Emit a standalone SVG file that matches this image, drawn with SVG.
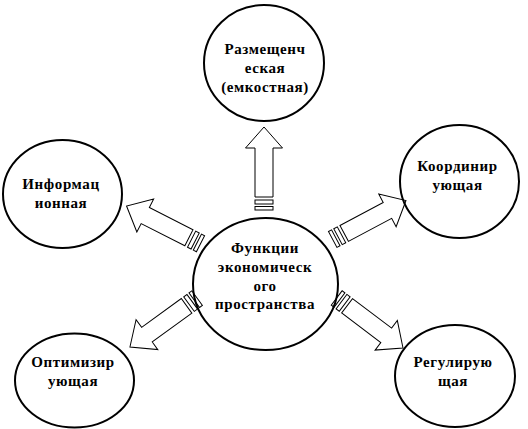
<svg xmlns="http://www.w3.org/2000/svg" width="528" height="429" viewBox="0 0 528 429">
<defs>
<style>
.c{fill:none;stroke:#000;stroke-width:2}
.a{fill:none;stroke:#000;stroke-width:1}
.t{font-family:"Liberation Serif","Times New Roman",serif;font-weight:bold;font-size:15px;letter-spacing:0.6px;text-anchor:middle;fill:#000}
</style>
<g id="arrow">
<path d="M13,-9 L62,-9 L62,-18.5 L83,0 L62,18.5 L62,9 L13,9 Z"/>
<rect x="0" y="-9" width="3.5" height="18"/>
<rect x="6" y="-9" width="4" height="18"/>
</g>
</defs>
<rect width="528" height="429" fill="#fff"/>
<g id="center">
<ellipse class="c" cx="265.5" cy="284" rx="72.5" ry="66"/>
<text class="t" x="265" y="253">Функции</text>
<text class="t" x="265" y="272">экономическ</text>
<text class="t" x="265" y="290.5">ого</text>
<text class="t" x="265" y="309">пространства</text>
</g>
<g id="top">
<ellipse class="c" cx="264" cy="63" rx="60" ry="58"/>
<text class="t" x="265" y="54">Размещенч</text>
<text class="t" x="265" y="73">еская</text>
<text class="t" x="265" y="92">(емкостная)</text>
</g>
<g id="info">
<ellipse class="c" cx="62.5" cy="194" rx="59.5" ry="54"/>
<text class="t" x="61" y="189">Информац</text>
<text class="t" x="61" y="208">ионная</text>
</g>
<g id="coord">
<ellipse class="c" cx="459.5" cy="181.5" rx="59.5" ry="56.5"/>
<text class="t" x="457.5" y="171">Координир</text>
<text class="t" x="457.5" y="190">ующая</text>
</g>
<g id="optim">
<ellipse class="c" cx="74.5" cy="380.5" rx="59.5" ry="47"/>
<text class="t" x="73" y="367">Оптимизир</text>
<text class="t" x="73" y="386">ующая</text>
</g>
<g id="regul">
<ellipse class="c" cx="455" cy="376" rx="60" ry="51"/>
<text class="t" x="453" y="367">Регулирую</text>
<text class="t" x="453" y="386">щая</text>
</g>
<g id="connectors" class="a">
<use href="#arrow" transform="translate(264,210) rotate(-90)"/>
<use href="#arrow" transform="translate(200.5,243.7) rotate(207)"/>
<use href="#arrow" transform="translate(332.7,239.5) rotate(-28)"/>
<use href="#arrow" transform="translate(197.1,298.2) rotate(144)"/>
<use href="#arrow" transform="translate(336.7,298) rotate(37)"/>
</g>
</svg>
